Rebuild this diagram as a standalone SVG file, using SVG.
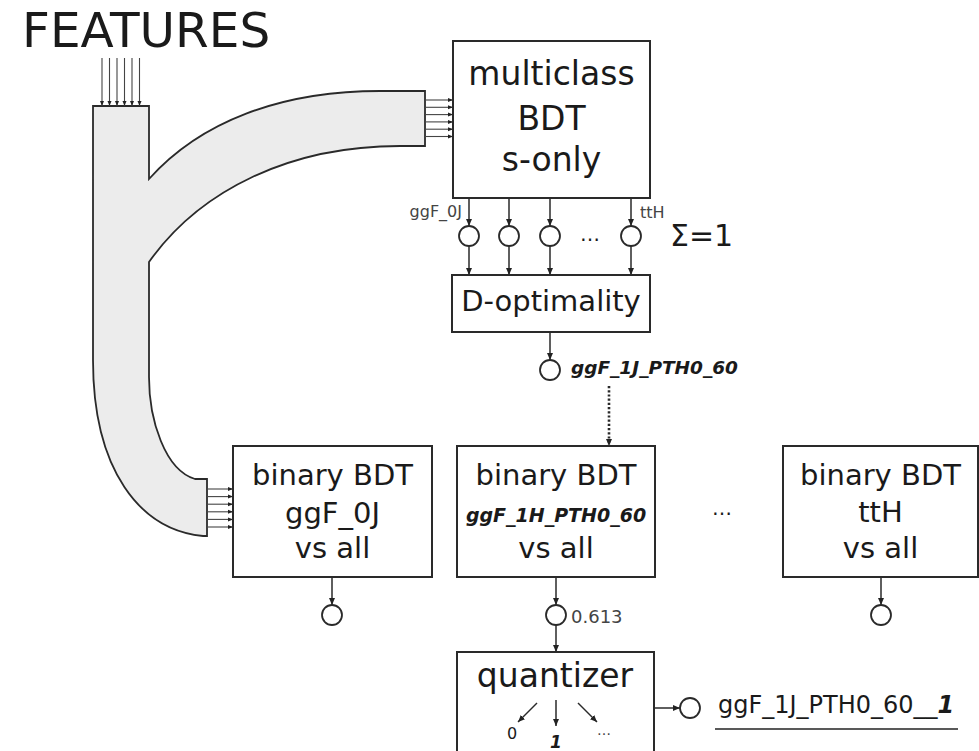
<svg xmlns="http://www.w3.org/2000/svg" width="979" height="751" viewBox="0 0 979 751">
<defs>
<marker id="ah" markerUnits="userSpaceOnUse" markerWidth="7" markerHeight="7" refX="7" refY="3.5" orient="auto"><path d="M0,0.5 L7,3.5 L0,6.5 z" fill="#222"/></marker>
<marker id="ahs" markerUnits="userSpaceOnUse" markerWidth="5" markerHeight="5" refX="5" refY="2.5" orient="auto"><path d="M0,0.5 L5,2.5 L0,4.5 z" fill="#222"/></marker>
<style>
.t{font-family:"DejaVu Sans","Liberation Sans",sans-serif;fill:#1a1a1a}
.box{fill:#fff;stroke:#2a2a2a;stroke-width:2}
.ln{stroke:#2a2a2a;stroke-width:1.5;fill:none}
.fl{stroke:#444;stroke-width:1.1;fill:none}
.c{fill:#fff;stroke:#2a2a2a;stroke-width:1.8}
.bi{font-weight:bold;font-style:italic}
.g{fill:#444}
</style>
</defs>
<text class="t" x="22" y="47" font-size="48.5">FEATURES</text>
<g id="tube">
<path d="M93,106 L149,106 L149,179 C200,122 280,91 380,91 L425,91 L425,146 L400,146 C290,146 200,190 149,262 L149,377 C149,420 165,470 195,479 L207,479 L207,536 L203,536 C140,530 93,470 93,360 Z" fill="#ececec" stroke="#2a2a2a" stroke-width="1.8"/>
</g>
<g id="connectors">
<g class="fl" marker-end="url(#ahs)">
<line x1="102" y1="58" x2="102" y2="106"/><line x1="109.5" y1="58" x2="109.5" y2="106"/><line x1="117" y1="58" x2="117" y2="106"/><line x1="124.5" y1="58" x2="124.5" y2="106"/><line x1="132" y1="58" x2="132" y2="106"/><line x1="139.5" y1="58" x2="139.5" y2="106"/>
<line x1="425" y1="100" x2="453" y2="100"/><line x1="425" y1="107.3" x2="453" y2="107.3"/><line x1="425" y1="114.6" x2="453" y2="114.6"/><line x1="425" y1="121.9" x2="453" y2="121.9"/><line x1="425" y1="129.2" x2="453" y2="129.2"/><line x1="425" y1="136.5" x2="453" y2="136.5"/>
<line x1="207" y1="489" x2="233" y2="489"/><line x1="207" y1="496.6" x2="233" y2="496.6"/><line x1="207" y1="504.2" x2="233" y2="504.2"/><line x1="207" y1="511.8" x2="233" y2="511.8"/><line x1="207" y1="519.4" x2="233" y2="519.4"/><line x1="207" y1="527" x2="233" y2="527"/>
</g>
<g class="ln" marker-end="url(#ah)">
<line x1="469" y1="198" x2="469" y2="226"/><line x1="509" y1="198" x2="509" y2="226"/><line x1="550" y1="198" x2="550" y2="226"/><line x1="631" y1="198" x2="631" y2="226"/>
<line x1="469" y1="246" x2="469" y2="275"/><line x1="509" y1="246" x2="509" y2="275"/><line x1="550" y1="246" x2="550" y2="275"/><line x1="631" y1="246" x2="631" y2="275"/>
<line x1="550" y1="332" x2="550" y2="360"/>
<line x1="332" y1="577" x2="332" y2="605"/><line x1="556" y1="577" x2="556" y2="605"/><line x1="881" y1="577" x2="881" y2="605"/>
<line x1="556" y1="625" x2="556" y2="652"/>
<line x1="654" y1="708" x2="680" y2="708"/>
<line x1="609" y1="386" x2="609" y2="446" stroke-width="2.6" stroke-dasharray="2.2,2"/>
</g>
<g class="c">
<circle cx="469" cy="236" r="10"/><circle cx="509" cy="236" r="10"/><circle cx="550" cy="236" r="10"/><circle cx="631" cy="236" r="10"/>
<circle cx="550" cy="370" r="10"/>
<circle cx="332" cy="615" r="10"/><circle cx="556" cy="615" r="10"/><circle cx="881" cy="615" r="10"/>
<circle cx="690" cy="708" r="10"/>
</g>
</g>
<g id="multiclass">
<rect class="box" x="453" y="41" width="197" height="157"/>
<text class="t" x="551.5" y="85" font-size="33" text-anchor="middle">multiclass</text>
<text class="t" x="551.5" y="130" font-size="33" text-anchor="middle">BDT</text>
<text class="t" x="551.5" y="171" font-size="33" text-anchor="middle">s-only</text>
</g>
<g id="outputs-labels">
<text class="t g" x="462" y="217" font-size="16" text-anchor="end">ggF_0J</text>
<text class="t g" x="640" y="218" font-size="16">ttH</text>
<text class="t" x="590" y="241" font-size="20" text-anchor="middle">…</text>
<text class="t" x="670" y="246" font-size="30">Σ=1</text>
</g>
<g id="doptimality">
<rect class="box" x="452" y="275" width="198" height="57"/>
<text class="t" x="551" y="311" font-size="29" text-anchor="middle">D-optimality</text>
</g>
<text class="t bi" x="571" y="374" font-size="18.5">ggF_1J_PTH0_60</text>
<g id="bdt-ggF0J">
<rect class="box" x="233" y="446" width="199" height="131"/>
<text class="t" x="332.5" y="485" font-size="29" text-anchor="middle">binary BDT</text>
<text class="t" x="332.5" y="523" font-size="29" text-anchor="middle">ggF_0J</text>
<text class="t" x="332.5" y="558" font-size="29" text-anchor="middle">vs all</text>
</g>
<g id="bdt-ggF1H">
<rect class="box" x="457" y="446" width="198" height="131"/>
<text class="t" x="556" y="485" font-size="29" text-anchor="middle">binary BDT</text>
<text class="t bi" x="556" y="522" font-size="19" text-anchor="middle">ggF_1H_PTH0_60</text>
<text class="t" x="556" y="558" font-size="29" text-anchor="middle">vs all</text>
</g>
<text class="t" x="722" y="515" font-size="20" text-anchor="middle">…</text>
<g id="bdt-ttH">
<rect class="box" x="783" y="446" width="195" height="131"/>
<text class="t" x="880.5" y="485" font-size="29" text-anchor="middle">binary BDT</text>
<text class="t" x="880.5" y="522" font-size="29" text-anchor="middle">ttH</text>
<text class="t" x="880.5" y="558" font-size="29" text-anchor="middle">vs all</text>
</g>
<text class="t g" x="571" y="623" font-size="18">0.613</text>
<g id="quantizer">
<rect class="box" x="457" y="652" width="197" height="120"/>
<text class="t" x="555" y="687" font-size="33" text-anchor="middle">quantizer</text>
<g class="ln" marker-end="url(#ah)">
<line x1="537" y1="703" x2="518" y2="722"/><line x1="556" y1="700" x2="556" y2="726"/><line x1="578" y1="703" x2="597" y2="722"/>
</g>
<text class="t" x="512" y="739" font-size="16" text-anchor="middle">0</text>
<text class="t bi" x="556" y="748" font-size="17" text-anchor="middle">1</text>
<text class="t g" x="604" y="735" font-size="14" text-anchor="middle">…</text>
</g>
<g id="result">
<text class="t" x="718" y="713" font-size="24">ggF_1J_PTH0_60__<tspan class="bi">1</tspan></text>
<line x1="715" y1="729" x2="958" y2="729" stroke="#222" stroke-width="1.5"/>
</g>
</svg>
